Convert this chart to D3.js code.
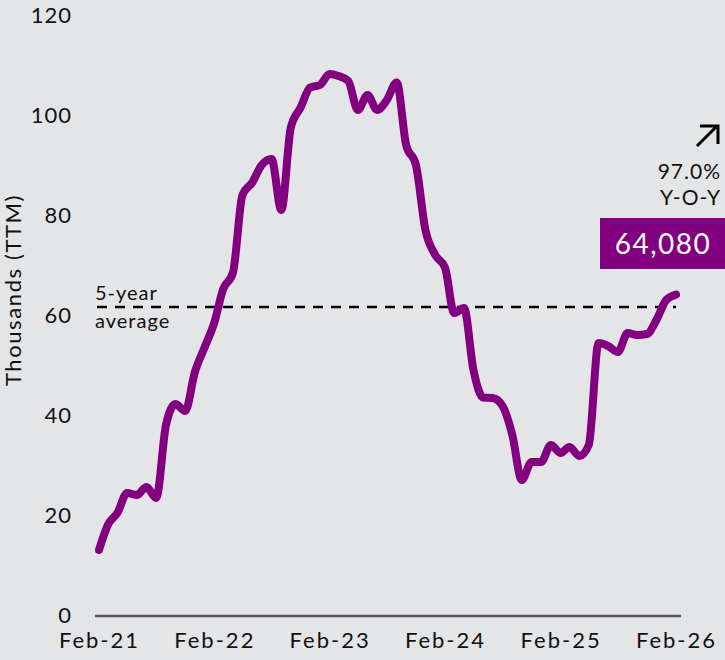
<!DOCTYPE html>
<html>
<head>
<meta charset="utf-8">
<script src="https://cdn.jsdelivr.net/npm/d3@7"></script>
<style>
  html, body { margin: 0; padding: 0; background: #e4e5e7; }
  #chart { width: 725px; height: 660px; }
  text { font-family: Lato, "Noto Sans", sans-serif; fill: #111; }
</style>
</head>
<body>
<div id="chart"></div>
<script>
// monthly TTM values, Feb-21 .. Feb-26 (thousands)
const startMonth = new Date(2021, 1, 1);
const values = [
  13.0, 18.0, 20.5, 24.4, 24.0, 25.6, 23.4, 38.0, 42.2, 40.8, 48.5, 53.5,
  58.5, 65.2, 68.5, 84.0, 86.5, 90.0, 91.2, 81.0, 97.5, 101.5, 105.5, 106.0,
  108.2, 107.8, 106.8, 101.0, 104.0, 101.0, 103.0, 106.5, 94.0, 90.0, 77.0, 72.0,
  69.5, 60.4, 61.4, 49.0, 43.5, 43.4, 41.8, 36.0, 27.0, 30.6, 30.6, 34.0,
  32.4, 33.6, 31.8, 34.0, 54.4, 53.8, 52.6, 56.4, 56.0, 56.2, 59.0, 63.0,
  64.08
];
const yTicks = [0, 20, 40, 60, 80, 100, 120];
const xTickLabels = ["Feb-21", "Feb-22", "Feb-23", "Feb-24", "Feb-25", "Feb-26"];
const fiveYearAvg = 61.6;
const yoyText = ["97.0%", "Y-O-Y"];
const lastLabel = "64,080";

const data = values.map((v, i) => ({
  date: new Date(startMonth.getFullYear(), startMonth.getMonth() + i, 1),
  value: v
}));
const xTickDates = xTickLabels.map((d, i) => new Date(2021 + i, 1, 1));

const chart = { width: 725, height: 660, top: 15, right: 49, bottom: 45, left: 99 };

const svg = d3.select("#chart")
  .append("svg")
  .attr("width", chart.width)
  .attr("height", chart.height);

const x = d3.scaleTime()
  .domain([data[0].date, data[data.length - 1].date])
  .range([chart.left, chart.width - chart.right]);

const y = d3.scaleLinear()
  .domain([0, 120])
  .range([chart.height - chart.bottom, chart.top]);

/* y axis labels */
svg.append("g")
  .attr("transform", `translate(72, 0)`)
  .call(d3.axisLeft(y).tickValues(yTicks).tickSize(0).tickPadding(0))
  .call((g) => g.select(".domain").remove())
  .selectAll("text")
  .style("font-family", "Lato, 'Noto Sans', sans-serif")
  .style("font-size", "22px")
  .style("letter-spacing", "1px")
  .attr("fill", "#111");

/* x axis */
svg.append("g")
  .attr("transform", `translate(0, ${y(0)})`)
  .call(d3.axisBottom(x).tickValues(xTickDates).tickSize(0).tickPadding(17)
    .tickFormat((d, i) => xTickLabels[i]))
  .call((g) => g.select(".domain").remove())
  .selectAll("text")
  .style("font-family", "Lato, 'Noto Sans', sans-serif")
  .style("font-size", "22px")
  .style("letter-spacing", "2px")
  .attr("fill", "#111");

svg.append("line")
  .attr("x1", x.range()[0] - 4)
  .attr("x2", x.range()[1] + 5)
  .attr("y1", y(0) + 1)
  .attr("y2", y(0) + 1)
  .attr("stroke", "#555")
  .attr("stroke-width", 2.5);

/* y axis title */
svg.append("text")
  .attr("transform", `translate(21, 290) rotate(-90)`)
  .attr("text-anchor", "middle")
  .style("font-size", "22px")
  .style("letter-spacing", "1.6px")
  .text("Thousands (TTM)");

/* 5-year average */
svg.append("line")
  .attr("x1", x.range()[0] - 2)
  .attr("x2", x.range()[1])
  .attr("y1", y(fiveYearAvg))
  .attr("y2", y(fiveYearAvg))
  .attr("stroke", "#000")
  .attr("stroke-width", 2.5)
  .attr("stroke-dasharray", "10,8");

svg.append("text")
  .attr("x", 95)
  .attr("y", 300)
  .style("font-size", "20px")
  .style("letter-spacing", "1px")
  .text("5-year");
svg.append("text")
  .attr("x", 95)
  .attr("y", 328)
  .style("font-size", "20px")
  .style("letter-spacing", "1px")
  .text("average");

/* line */
const line = d3.line()
  .x((d) => x(d.date))
  .y((d) => y(d.value))
  .curve(d3.curveMonotoneX);

svg.append("path")
  .datum(data)
  .attr("fill", "none")
  .attr("stroke", "#820080")
  .attr("stroke-width", 8)
  .attr("stroke-linejoin", "round")
  .attr("stroke-linecap", "round")
  .attr("d", line);

/* annotation */
svg.append("path")
  .attr("d", "M697,146 L717,126 M700,126 L718,126 L718,144")
  .attr("fill", "none")
  .attr("stroke", "#000")
  .attr("stroke-width", 3);

svg.selectAll(".yoy")
  .data(yoyText)
  .join("text")
  .attr("class", "yoy")
  .attr("x", 721)
  .attr("y", (d, i) => 179 + i * 26)
  .attr("text-anchor", "end")
  .style("font-size", "21px")
  .style("letter-spacing", "1px")
  .text((d) => d);

svg.append("rect")
  .attr("x", 600)
  .attr("y", 218)
  .attr("width", 125)
  .attr("height", 51)
  .attr("fill", "#820080");

svg.append("text")
  .attr("x", 663)
  .attr("y", 254)
  .attr("text-anchor", "middle")
  .style("font-size", "28px")
  .style("letter-spacing", "1.5px")
  .style("fill", "#fff")
  .text(lastLabel);
</script>
</body>
</html>
